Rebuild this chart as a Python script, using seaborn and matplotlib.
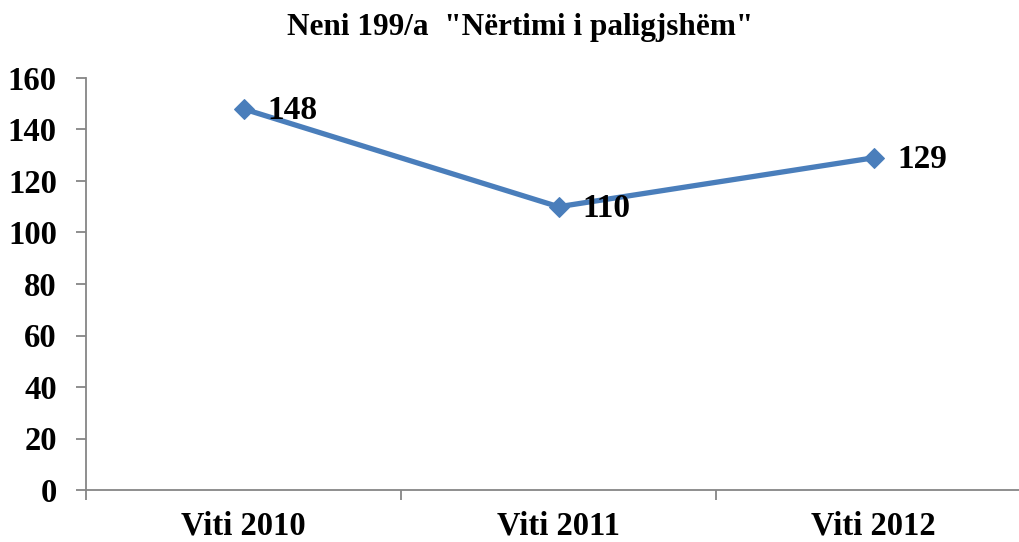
import matplotlib
matplotlib.use("Agg")
import matplotlib.pyplot as plt
import seaborn as sns
import pandas as pd

years = ["Viti 2010", "Viti 2011", "Viti 2012"]
cases = [148, 110, 129]
y_ticks = [0, 20, 40, 60, 80, 100, 120, 140, 160]
title = 'Neni 199/a  "Nërtimi i paligjshëm"'

sns.set_theme(style="white")
plt.rcParams["font.family"] = ["Liberation Serif", "DejaVu Serif"]
plt.rcParams["font.weight"] = "bold"
plt.rcParams["text.color"] = "black"
plt.rcParams["xtick.color"] = "black"
plt.rcParams["ytick.color"] = "black"

df = pd.DataFrame({"year": years, "cases": cases})
df["pos"] = range(len(years))

fig = plt.figure(figsize=(10.19, 5.42), dpi=100)
ax = fig.add_axes([86 / 1019, 1 - 490 / 542, (1031 - 86) / 1019, (490 - 78) / 542])

line_color = "#4A7EBB"
sns.lineplot(data=df, x="pos", y="cases", ax=ax, color=line_color, linewidth=3.8,
             marker="D", markersize=10, markeredgecolor=line_color, markerfacecolor=line_color)

for x, v in zip(df["pos"], df["cases"]):
    ax.annotate(str(v), (x, v), xytext=(17, -1), textcoords="offset points",
                ha="left", va="center", fontsize=24, fontweight="bold", color="black")

ax.set_xlim(-0.5, len(years) - 0.5)
ax.set_ylim(0, 160)
ax.set_yticks(y_ticks)
ax.set_yticklabels([str(t) for t in y_ticks], fontsize=23.5, fontweight="bold")
ax.set_xticks(df["pos"])
ax.set_xticklabels(years, fontsize=23.5, fontweight="bold")
ax.set_xticks([-0.5, 0.5, 1.5, 2.5], minor=True)
ax.tick_params(axis="x", which="major", bottom=True, length=0, pad=15, labelcolor="black")
ax.tick_params(axis="x", which="minor", bottom=True, length=7, width=1.3,
               color="#868686", direction="out")
ax.tick_params(axis="y", left=True, length=7, width=1.3, color="#868686",
               direction="out", pad=14, labelcolor="black")
ax.set_xlabel("")
ax.set_ylabel("")

for side in ["top", "right"]:
    ax.spines[side].set_visible(False)
for side in ["left", "bottom"]:
    ax.spines[side].set_color("#868686")
    ax.spines[side].set_linewidth(1.3)

fig.text(520 / 1019, 1 - 28 / 542, title, ha="center", va="center",
         fontsize=22.5, fontweight="bold", color="black")

fig.savefig("out.png", dpi=100)
